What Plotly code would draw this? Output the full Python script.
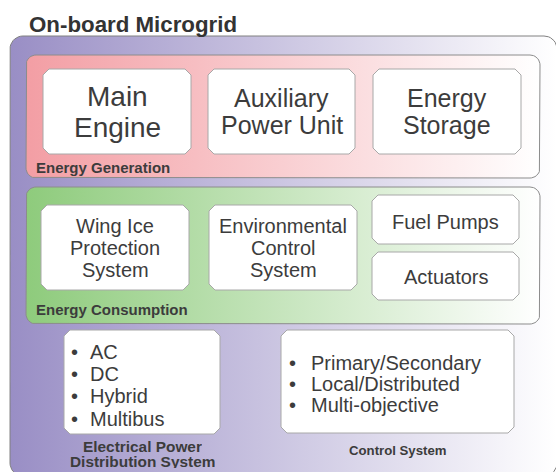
import numpy as np
import plotly.graph_objects as go

# ---------------- content ----------------
title_text = "On-board Microgrid"
generation_label = "Energy Generation"
generation_items = [["Main", "Engine"], ["Auxiliary", "Power Unit"], ["Energy", "Storage"]]
consumption_label = "Energy Consumption"
consumption_items = [["Wing Ice", "Protection", "System"],
                     ["Environmental", "Control", "System"],
                     ["Fuel Pumps"],
                     ["Actuators"]]
epds_label = ["Electrical Power", "Distribution System"]
epds_types = ["AC", "DC", "Hybrid", "Multibus"]
control_label = ["Control System"]
control_types = ["Primary/Secondary", "Local/Distributed", "Multi-objective"]

# ---------------- geometry / style ----------------
W, H = 556, 472
FONT = "Arial, Liberation Sans, sans-serif"
TXT = "#3c3c3c"

outer_box = (10, 36, 557, 476, 13)
gen_box = (26, 55, 540, 178, 10)
cons_box = (26, 187, 540, 324, 10)
gen_inner = [(43, 69, 191, 154), (208, 69, 355, 154), (373, 69, 521, 154)]
gen_baselines = [[107, 138], [107, 134], [107, 134]]
gen_sizes = [28, 25, 25]
cons_inner = [(41, 205, 189, 290), (209, 205, 357, 290), (372, 195, 519, 244), (372, 252, 519, 300)]
cons_baselines = [[233, 255, 277], [233, 255, 277], [229], [284]]
epds_box = (64, 330, 220, 434)
ctrl_box = (281, 330, 514, 433)
epds_baselines = [359, 381.5, 403.5, 426]
ctrl_baselines = [370, 391.5, 412.5]


def rrect(x0, y0, x1, y1, r, n=10):
    xs, ys = [], []
    centers = [(x1 - r, y0 + r, -np.pi / 2, 0), (x1 - r, y1 - r, 0, np.pi / 2),
               (x0 + r, y1 - r, np.pi / 2, np.pi), (x0 + r, y0 + r, np.pi, 1.5 * np.pi)]
    for cx, cy, a0, a1 in centers:
        t = np.linspace(a0, a1, n)
        xs += list(cx + r * np.cos(t))
        ys += list(cy + r * np.sin(t))
    xs.append(xs[0]); ys.append(ys[0])
    return xs, ys


def chamfer(x0, y0, x1, y1, c=6):
    xs = [x0 + c, x1 - c, x1, x1, x1 - c, x0 + c, x0, x0, x0 + c]
    ys = [y0, y0, y0 + c, y1 - c, y1, y1, y1 - c, y0 + c, y0]
    return xs, ys


fig = go.Figure()


def add_poly(xs, ys, line_color, grad=None, fill="white", lw=1):
    kw = dict(x=xs, y=ys, mode="lines", fill="toself",
              line=dict(color=line_color, width=lw), hoverinfo="skip", showlegend=False)
    if grad:
        kw["fillgradient"] = dict(type="horizontal", colorscale=[[0, grad[0]], [1, grad[1]]])
    else:
        kw["fillcolor"] = fill
    fig.add_trace(go.Scatter(**kw))


add_poly(*rrect(*outer_box), "#808080", grad=("#998ec5", "#ffffff"))
add_poly(*rrect(*gen_box), "#8c8c8c", grad=("#f39ea4", "#ffffff"))
add_poly(*rrect(*cons_box), "#8c8c8c", grad=("#8ecb7c", "#ffffff"))
for b in gen_inner + cons_inner + [epds_box, ctrl_box]:
    add_poly(*chamfer(*b), "#a8a8a8", fill="#ffffff")

ann = []


def text(x, baseline, s, size, bold=False, xanchor="center", color=TXT, height=None):
    a = dict(x=x, y=baseline - 0.36 * size, text=("<b>%s</b>" % s) if bold else s,
             xref="x", yref="y", showarrow=False, xanchor=xanchor, yanchor="middle",
             font=dict(family=FONT, size=size, color=color))
    if height:
        a["height"] = height
    ann.append(a)


text(27, 32.5, title_text, 22.3, bold=True, xanchor="left", color="#333333")
text(34, 173, generation_label, 15, bold=True, xanchor="left")
text(34, 315, consumption_label, 15, bold=True, xanchor="left")

for b, lines, bls, sz in zip(gen_inner, generation_items, gen_baselines, gen_sizes):
    cx = (b[0] + b[2]) / 2
    for ln, bl in zip(lines, bls):
        text(cx, bl, ln, sz)

for b, lines, bls in zip(cons_inner, consumption_items, cons_baselines):
    cx = (b[0] + b[2]) / 2
    for ln, bl in zip(lines, bls):
        text(cx, bl, ln, 20)

for t, bl in zip(epds_types, epds_baselines):
    text(69, bl, "•", 20, xanchor="left")
    text(88, bl, t, 20, xanchor="left")
for t, bl in zip(control_types, ctrl_baselines):
    text(287, bl, "•", 20, xanchor="left")
    text(309, bl, t, 20, xanchor="left")

cx = (epds_box[0] + epds_box[2]) / 2
for ln, bl in zip(epds_label, [451.5, 466.5]):
    text(cx, bl, ln, 15.4, bold=True, height=14)
cx = (ctrl_box[0] + ctrl_box[2]) / 2
for ln, bl in zip(control_label, [455]):
    text(cx, bl, ln, 13.2, bold=True)

fig.update_layout(
    width=W, height=H, margin=dict(l=0, r=0, t=0, b=0),
    paper_bgcolor="white", plot_bgcolor="white",
    xaxis=dict(range=[0, W], visible=False, fixedrange=True),
    yaxis=dict(range=[H, 0], visible=False, fixedrange=True),
    annotations=ann, showlegend=False,
)
fig.write_html("out.html", config={"displayModeBar": False},
               post_script="document.body.style.margin='0px';document.body.style.overflow='hidden';")
